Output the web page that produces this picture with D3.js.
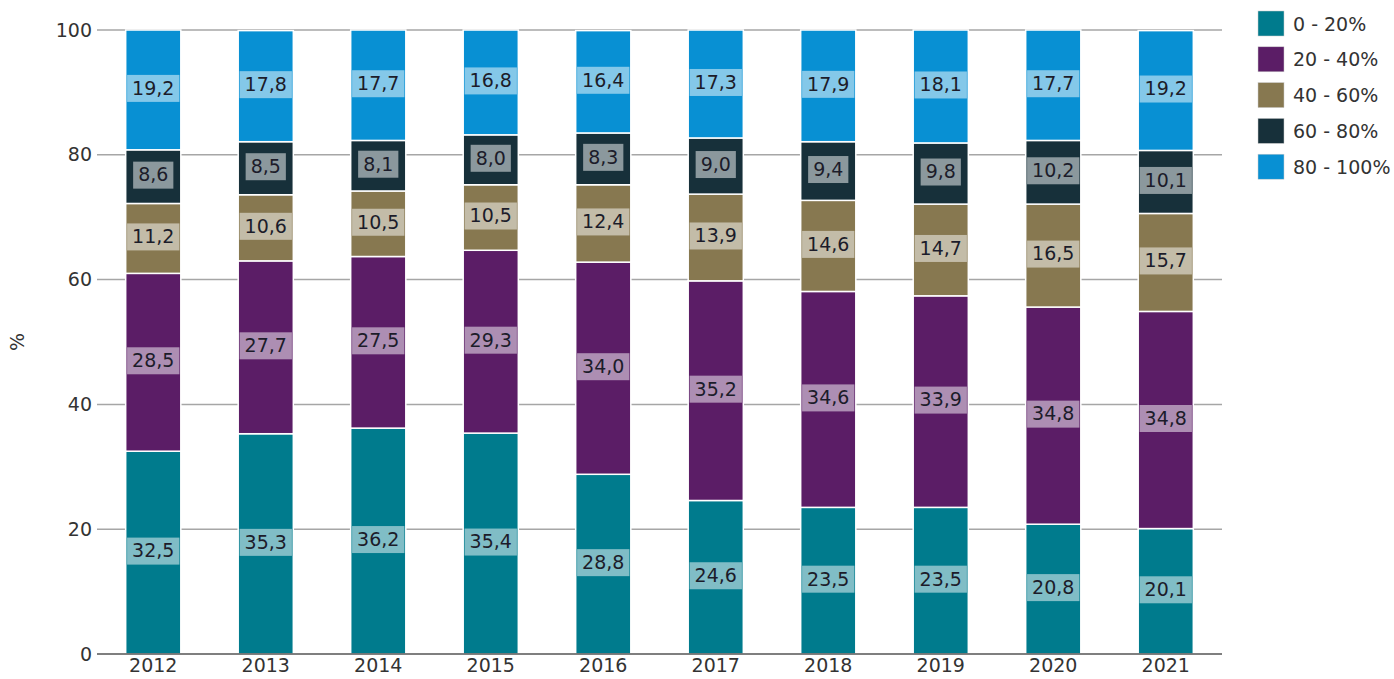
<!DOCTYPE html>
<html>
<head>
<meta charset="utf-8">
<script src="https://cdn.jsdelivr.net/npm/d3@7"></script>
<style>
  body { margin: 0; background: #fff; }
  text { font-family: "DejaVu Sans", Verdana, sans-serif; }
</style>
</head>
<body>
<script>
// data
const years = ['2012', '2013', '2014', '2015', '2016', '2017', '2018', '2019', '2020', '2021'];
const groups = ['0 - 20%', '20 - 40%', '40 - 60%', '60 - 80%', '80 - 100%'];
const s0_20 = [32.5, 35.3, 36.2, 35.4, 28.8, 24.6, 23.5, 23.5, 20.8, 20.1];
const s20_40 = [28.5, 27.7, 27.5, 29.3, 34.0, 35.2, 34.6, 33.9, 34.8, 34.8];
const s40_60 = [11.2, 10.6, 10.5, 10.5, 12.4, 13.9, 14.6, 14.7, 16.5, 15.7];
const s60_80 = [8.6, 8.5, 8.1, 8.0, 8.3, 9.0, 9.4, 9.8, 10.2, 10.1];
const s80_100 = [19.2, 17.8, 17.7, 16.8, 16.4, 17.3, 17.9, 18.1, 17.7, 19.2];
const yTicks = [0, 20, 40, 60, 80, 100];

const colors = ['#007b8d', '#5b1d66', '#877850', '#17303a', '#0890d3'];

const width = 1394, height = 679;
const margin = {top: 30, bottom: 25, left: 97, right: 172};

const svg = d3.select('body').append('svg')
  .attr('width', width)
  .attr('height', height);

const rows = years.map((y, i) => ({
  year: y,
  '0 - 20%': s0_20[i],
  '20 - 40%': s20_40[i],
  '40 - 60%': s40_60[i],
  '60 - 80%': s60_80[i],
  '80 - 100%': s80_100[i]
}));

const stacked = d3.stack().keys(groups)(rows);

const x = d3.scaleBand()
  .domain(years)
  .range([margin.left, width - margin.right])
  .paddingInner(0.51)
  .paddingOuter(0.255);

const y = d3.scaleLinear()
  .domain([0, 100])
  .range([height - margin.bottom, margin.top]);

// gridlines
svg.append('g')
  .selectAll('line')
  .data(yTicks.filter(d => d > 0))
  .join('line')
  .attr('x1', margin.left)
  .attr('x2', width - margin.right)
  .attr('y1', d => y(d))
  .attr('y2', d => y(d))
  .attr('stroke', '#a6a6a6')
  .attr('stroke-width', 1.5);

// y tick labels
svg.append('g')
  .selectAll('text')
  .data(yTicks)
  .join('text')
  .attr('x', margin.left - 5)
  .attr('y', d => y(d))
  .attr('dy', '0.35em')
  .attr('text-anchor', 'end')
  .attr('font-size', 19)
  .attr('fill', '#333')
  .text(d => d);

svg.append('text')
  .attr('transform', `translate(24,${y(50)}) rotate(-90)`)
  .attr('text-anchor', 'middle')
  .attr('font-size', 19)
  .attr('fill', '#333')
  .text('%');

// bars
const layer = svg.append('g')
  .selectAll('g')
  .data(stacked)
  .join('g')
  .attr('fill', (d, i) => colors[i]);

layer.selectAll('rect')
  .data(d => d)
  .join('rect')
  .attr('x', d => x(d.data.year))
  .attr('width', x.bandwidth())
  .attr('y', d => y(d[1]))
  .attr('height', d => y(d[0]) - y(d[1]))
  .attr('stroke', '#fff')
  .attr('stroke-width', 1.5);

// x axis
const xAxis = svg.append('g')
  .attr('transform', `translate(0,${height - margin.bottom})`)
  .call(d3.axisBottom(x).tickSize(0).tickPadding(5));
xAxis.select('.domain').attr('stroke', '#555').attr('stroke-width', 1.5)
  .attr('d', `M${margin.left},0H${width - margin.right}`);
xAxis.selectAll('text')
  .attr('font-size', 19)
  .attr('fill', '#333')
  .attr('font-family', '"DejaVu Sans", Verdana, sans-serif');

// value labels
const fmt = v => v.toFixed(1).replace('.', ',');
const labels = layer.selectAll('g.lab')
  .data(d => d)
  .join('g')
  .attr('class', 'lab')
  .attr('transform', d => `translate(${x(d.data.year) + x.bandwidth() / 2},${y((d[0] + d[1]) / 2) - 2})`);

labels.append('text')
  .attr('text-anchor', 'middle')
  .attr('dy', '0.36em')
  .attr('font-size', 19)
  .attr('fill', '#1c1c2a')
  .text(d => fmt(d[1] - d[0]));

labels.each(function () {
  const g = d3.select(this);
  const bb = g.select('text').node().getBBox();
  g.insert('rect', 'text')
    .attr('x', bb.x - 5)
    .attr('y', -13)
    .attr('width', bb.width + 10)
    .attr('height', 27)
    .attr('fill', 'rgba(255,255,255,0.5)');
});

// legend
const legend = svg.append('g')
  .attr('transform', 'translate(1258,11)')
  .selectAll('g')
  .data(groups)
  .join('g')
  .attr('transform', (d, i) => `translate(0,${i * 35.8})`);

legend.append('rect')
  .attr('width', 26)
  .attr('height', 25)
  .attr('fill', (d, i) => colors[i])
  .attr('stroke', '#ccc')
  .attr('stroke-width', 0.5);

legend.append('text')
  .attr('x', 35)
  .attr('y', 13)
  .attr('dy', '0.35em')
  .attr('font-size', 19)
  .attr('fill', '#333')
  .text(d => d);
</script>
</body>
</html>
